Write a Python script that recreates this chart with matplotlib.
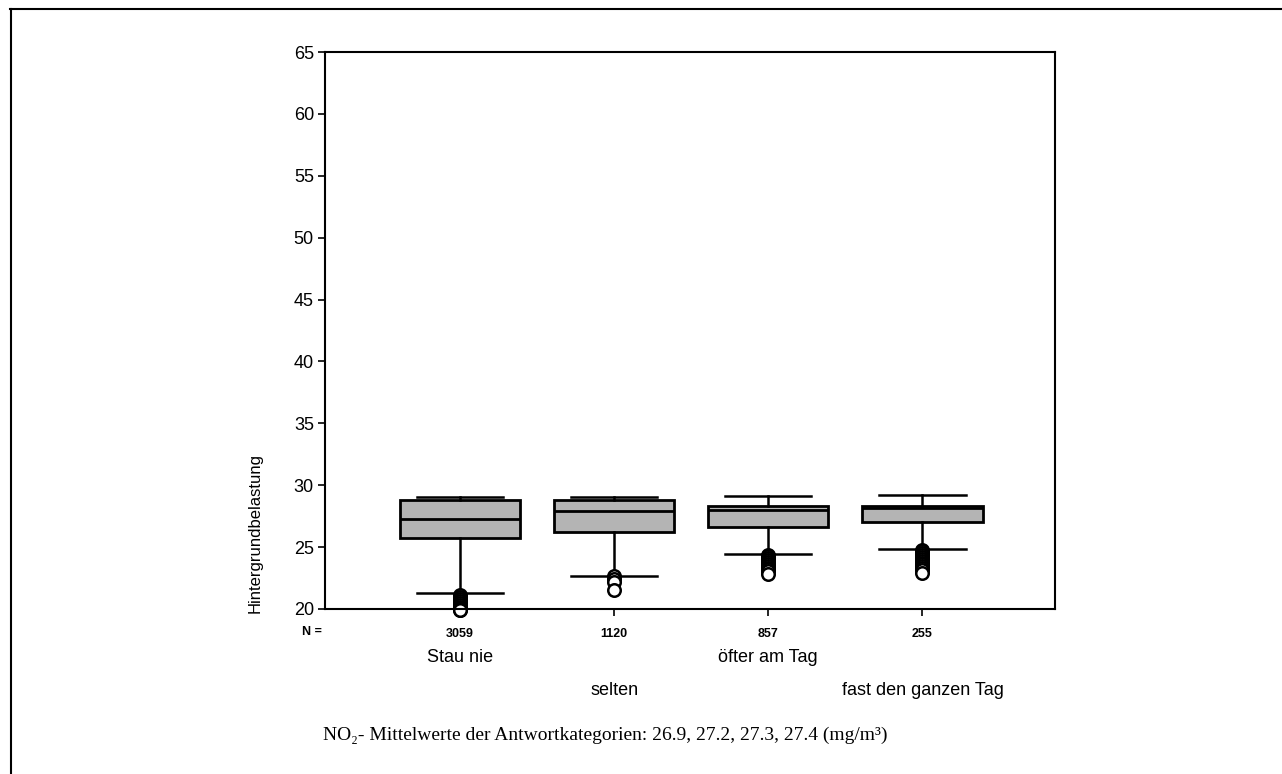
import matplotlib.pyplot as plt
from matplotlib.lines import Line2D

categories = ["Stau nie", "selten", "öfter am Tag", "fast den ganzen Tag"]
counts = ["3059", "1120", "857", "255"]
q1 = [25.7, 26.2, 26.65, 27.0]
medians = [27.23, 27.9, 27.96, 28.17]
q3 = [28.77, 28.77, 28.3, 28.36]
whislo = [21.26, 22.65, 24.47, 24.87]
whishi = [29.06, 29.08, 29.1, 29.17]
fliers = [
    [21.1, 20.95, 20.8, 20.65, 20.5, 20.35, 20.2, 20.05, 19.95, 19.9],
    [22.7, 22.45, 22.2, 21.5],
    [24.4, 24.25, 24.1, 23.95, 23.8, 23.65, 23.5, 23.35, 23.2, 23.05, 22.85],
    [24.8, 24.65, 24.5, 24.35, 24.2, 24.05, 23.9, 23.75, 23.6, 23.45, 23.3, 23.15, 22.9],
]
caption = "NO₂- Mittelwerte der Antwortkategorien: 26.9, 27.2, 27.3, 27.4 (mg/m³)"

plt.rcParams["font.family"] = ["Liberation Sans", "DejaVu Sans"]

fig = plt.figure(figsize=(12.82, 7.74), dpi=100)
ax = fig.add_axes([0.2535, 0.2132, 0.5695, 0.7196])

stats = []
for i in range(len(categories)):
    stats.append({
        "med": medians[i], "q1": q1[i], "q3": q3[i],
        "whislo": whislo[i], "whishi": whishi[i], "fliers": fliers[i],
    })

positions = [1, 2, 3, 4]
res = ax.bxp(
    stats, positions=positions, widths=0.78, capwidths=0.56, patch_artist=True,
    boxprops=dict(facecolor="#b4b4b4", edgecolor="black", linewidth=2),
    medianprops=dict(color="black", linewidth=2),
    whiskerprops=dict(color="black", linewidth=1.8),
    capprops=dict(color="black", linewidth=1.8),
    flierprops=dict(marker="o", markersize=9, markerfacecolor="white",
                    markeredgecolor="black", markeredgewidth=1.8),
)
for f in res["fliers"]:
    f.set_clip_on(False)

ax.set_xlim(0.125, 4.86)
ax.set_ylim(20.1, 65)
ax.set_yticks([20, 25, 30, 35, 40, 45, 50, 55, 60, 65])
ax.tick_params(axis="y", direction="out", length=5, width=1.2, labelsize=13, pad=3)
ax.set_xticks(positions)
ax.set_xticklabels(counts, fontsize=9, fontweight="bold")
ax.tick_params(axis="x", direction="out", length=5, width=1.2, pad=9)
for s in ax.spines.values():
    s.set_linewidth(1.5)

ax.text(-0.018, -0.03, "N =", transform=ax.transAxes, fontsize=9,
        fontweight="bold", ha="center", va="top")

trans = ax.get_xaxis_transform()
for i, name in enumerate(categories):
    yoff = -0.088 if i % 2 == 0 else -0.146
    ax.text(positions[i], yoff, name, transform=trans, fontsize=13,
            ha="center", va="center")

ax.set_ylabel("Hintergrundbelastung", fontsize=12)
ax.yaxis.set_label_coords(-0.085, 0.136)

fig.text(323 / 1282, 1 - 735 / 774, caption,
         family=["Liberation Serif", "DejaVu Serif"],
         fontsize=14, ha="left", va="center")

# outer frame (top and left edge only)
fig.add_artist(Line2D([10 / 1282, 1], [1 - 9 / 774, 1 - 9 / 774],
                      transform=fig.transFigure, color="black", linewidth=1.5))
fig.add_artist(Line2D([11 / 1282, 11 / 1282], [0, 1 - 9 / 774],
                      transform=fig.transFigure, color="black", linewidth=1.5))

fig.savefig("out.png", dpi=100)
